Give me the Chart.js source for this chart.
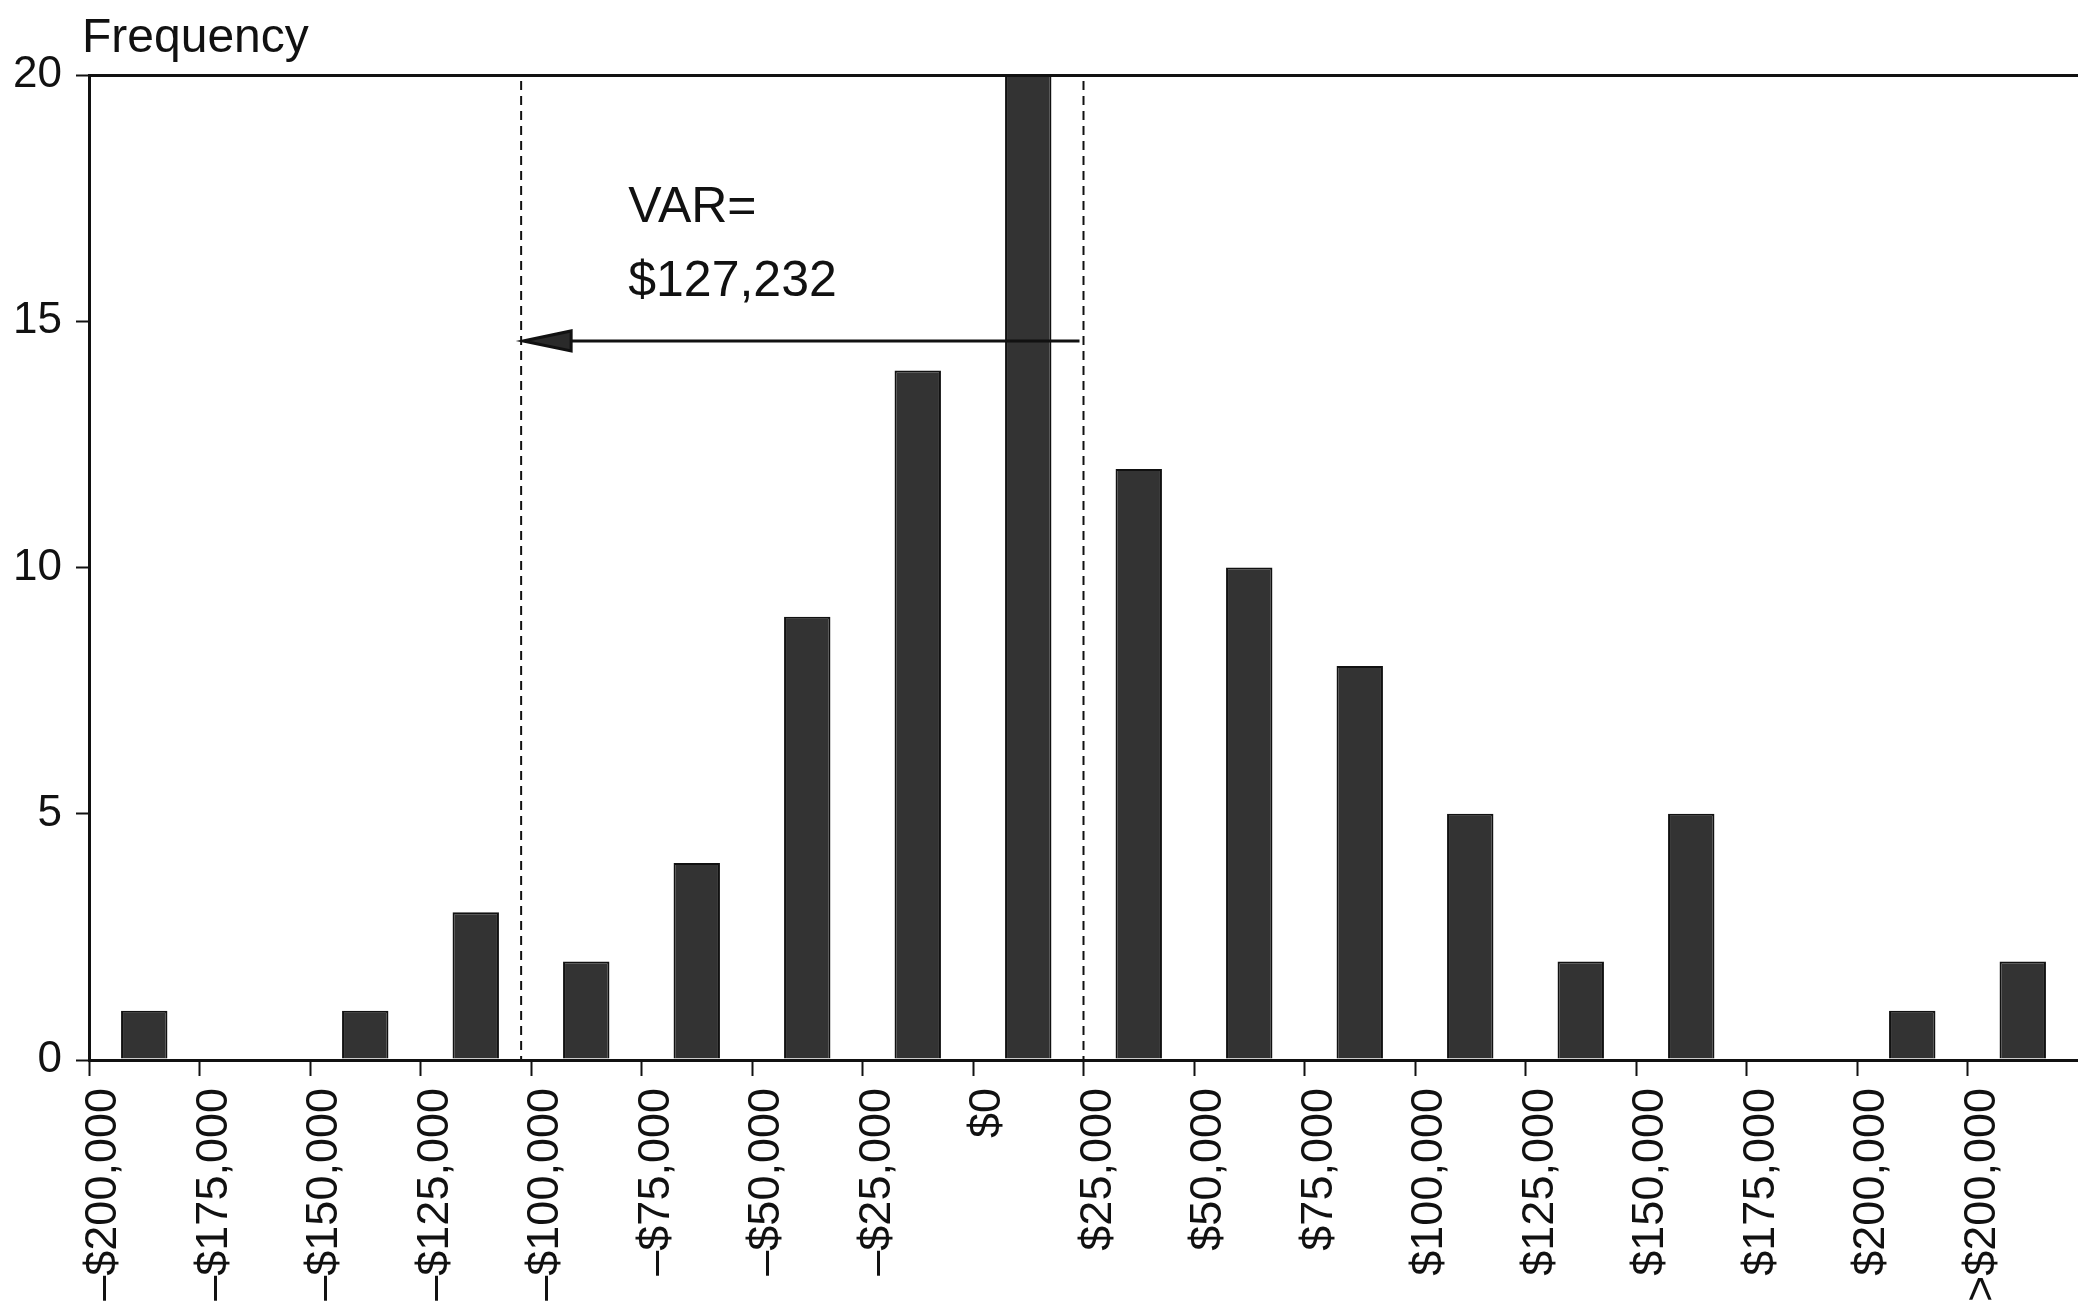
<!DOCTYPE html>
<html>
<head>
<meta charset="utf-8">
<title>VAR histogram</title>
<script src="https://cdn.jsdelivr.net/npm/chart.js@4.4.1/dist/chart.umd.min.js"></script>
<style>
  html, body { margin: 0; padding: 0; background: #fff; }
  #wrap { width: 2078px; height: 1307px; }
</style>
</head>
<body>
<div id="wrap"><canvas id="histogram" width="2078" height="1307"></canvas></div>
<script>
// Histogram bins (left edge of each bin, in dollars) and their tick labels
const binStarts = [-200000, -175000, -150000, -125000, -100000, -75000, -50000, -25000, 0,
  25000, 50000, 75000, 100000, 125000, 150000, 175000, 200000, 225000];
const tickLabels = ['–$200,000', '–$175,000', '–$150,000', '–$125,000', '–$100,000', '–$75,000',
  '–$50,000', '–$25,000', '$0', '$25,000', '$50,000', '$75,000', '$100,000', '$125,000',
  '$150,000', '$175,000', '$200,000', '>$200,000'];
const frequencies = [1, 0, 1, 3, 2, 4, 9, 14, 20, 12, 10, 8, 5, 2, 5, 0, 1, 2];
const binWidth = 25000;

// VAR annotation
const referenceLine = 25000;
const varValue = 127232;
const varLine = referenceLine - varValue;
const arrowLevel = 14.6;
const varText = ['VAR=', '$127,232'];
const varTextX = -78000;
const varTextLevels = [17.3, 15.8];

const FONT = '"Liberation Sans", Arial, Helvetica, sans-serif';

const annotations = {
  id: 'varAnnotations',
  afterDatasetsDraw(chart) {
    const { ctx, chartArea, scales: { x, y } } = chart;
    ctx.save();
    ctx.strokeStyle = '#111';
    ctx.fillStyle = '#111';

    // dashed vertical lines
    ctx.lineWidth = 2;
    ctx.setLineDash([9, 6]);
    [varLine, referenceLine].forEach(v => {
      const px = x.getPixelForValue(v);
      ctx.beginPath();
      ctx.moveTo(px, chartArea.top + 6);
      ctx.lineTo(px, chartArea.bottom);
      ctx.stroke();
    });
    ctx.setLineDash([]);

    // arrow from reference line to VAR line
    const ay = y.getPixelForValue(arrowLevel);
    const x0 = x.getPixelForValue(referenceLine) - 4;
    const x1 = x.getPixelForValue(varLine) + 2;
    ctx.lineWidth = 3;
    ctx.beginPath();
    ctx.moveTo(x0, ay);
    ctx.lineTo(x1 + 45, ay);
    ctx.stroke();
    ctx.fillStyle = '#2a2a2a';
    ctx.beginPath();
    ctx.moveTo(x1, ay);
    ctx.lineTo(x1 + 48, ay - 10);
    ctx.lineTo(x1 + 48, ay + 10);
    ctx.closePath();
    ctx.fill();
    ctx.stroke();

    // texts
    ctx.fillStyle = '#111';
    ctx.font = '50px ' + FONT;
    ctx.textAlign = 'left';
    ctx.textBaseline = 'middle';
    varText.forEach((t, i) => {
      ctx.fillText(t, x.getPixelForValue(varTextX), y.getPixelForValue(varTextLevels[i]));
    });
    ctx.font = '48px ' + FONT;
    ctx.fillText('Frequency', chartArea.left - 7, chartArea.top - 36);
    ctx.restore();
  }
};

const ctx = document.getElementById('histogram').getContext('2d');
new Chart(ctx, {
  type: 'bar',
  data: {
    datasets: [{
      data: binStarts.map((s, i) => ({ x: s + binWidth / 2, y: frequencies[i] })),
      backgroundColor: '#333333',
      borderColor: '#111',
      borderWidth: 2,
      categoryPercentage: 1,
      barPercentage: 0.42,
    }],
  },
  options: {
    responsive: false,
    animation: false,
    layout: { padding: { top: 75, right: 0, bottom: 0, left: 0 } },
    plugins: {
      legend: { display: false },
      tooltip: { enabled: false },
    },
    scales: {
      x: {
        type: 'linear',
        offset: false,
        min: -200000,
        max: 250000,
        afterBuildTicks: scale => {
          scale.ticks = binStarts.map(v => ({ value: v }));
        },
        afterFit: scale => {
          scale.height = 247;
          scale.paddingLeft = 0;
          scale.paddingRight = 0;
        },
        border: { display: true, color: '#111', width: 3 },
        grid: {
          offset: false,
          color: 'transparent',
          tickColor: '#111',
          tickLength: 16,
          tickWidth: 2,
          drawOnChartArea: false,
        },
        ticks: {
          autoSkip: false,
          minRotation: 90,
          maxRotation: 90,
          padding: 12,
          labelOffset: 15,
          color: '#111',
          font: { family: FONT, size: 45 },
          callback: value => {
            const i = binStarts.indexOf(value);
            return i >= 0 ? tickLabels[i] : '';
          },
        },
      },
      y: {
        min: 0,
        max: 20,
        afterFit: scale => {
          scale.width = 89;
        },
        border: { display: true, color: '#111', width: 3 },
        grid: {
          color: c => (c.tick && c.tick.value === 20 ? '#111' : 'transparent'),
          lineWidth: 3,
          tickColor: '#111',
          tickLength: 13,
          tickWidth: 2,
        },
        ticks: {
          stepSize: 5,
          padding: 14,
          color: '#111',
          font: { family: FONT, size: 44 },
        },
      },
    },
  },
  plugins: [annotations],
});
</script>
</body>
</html>
